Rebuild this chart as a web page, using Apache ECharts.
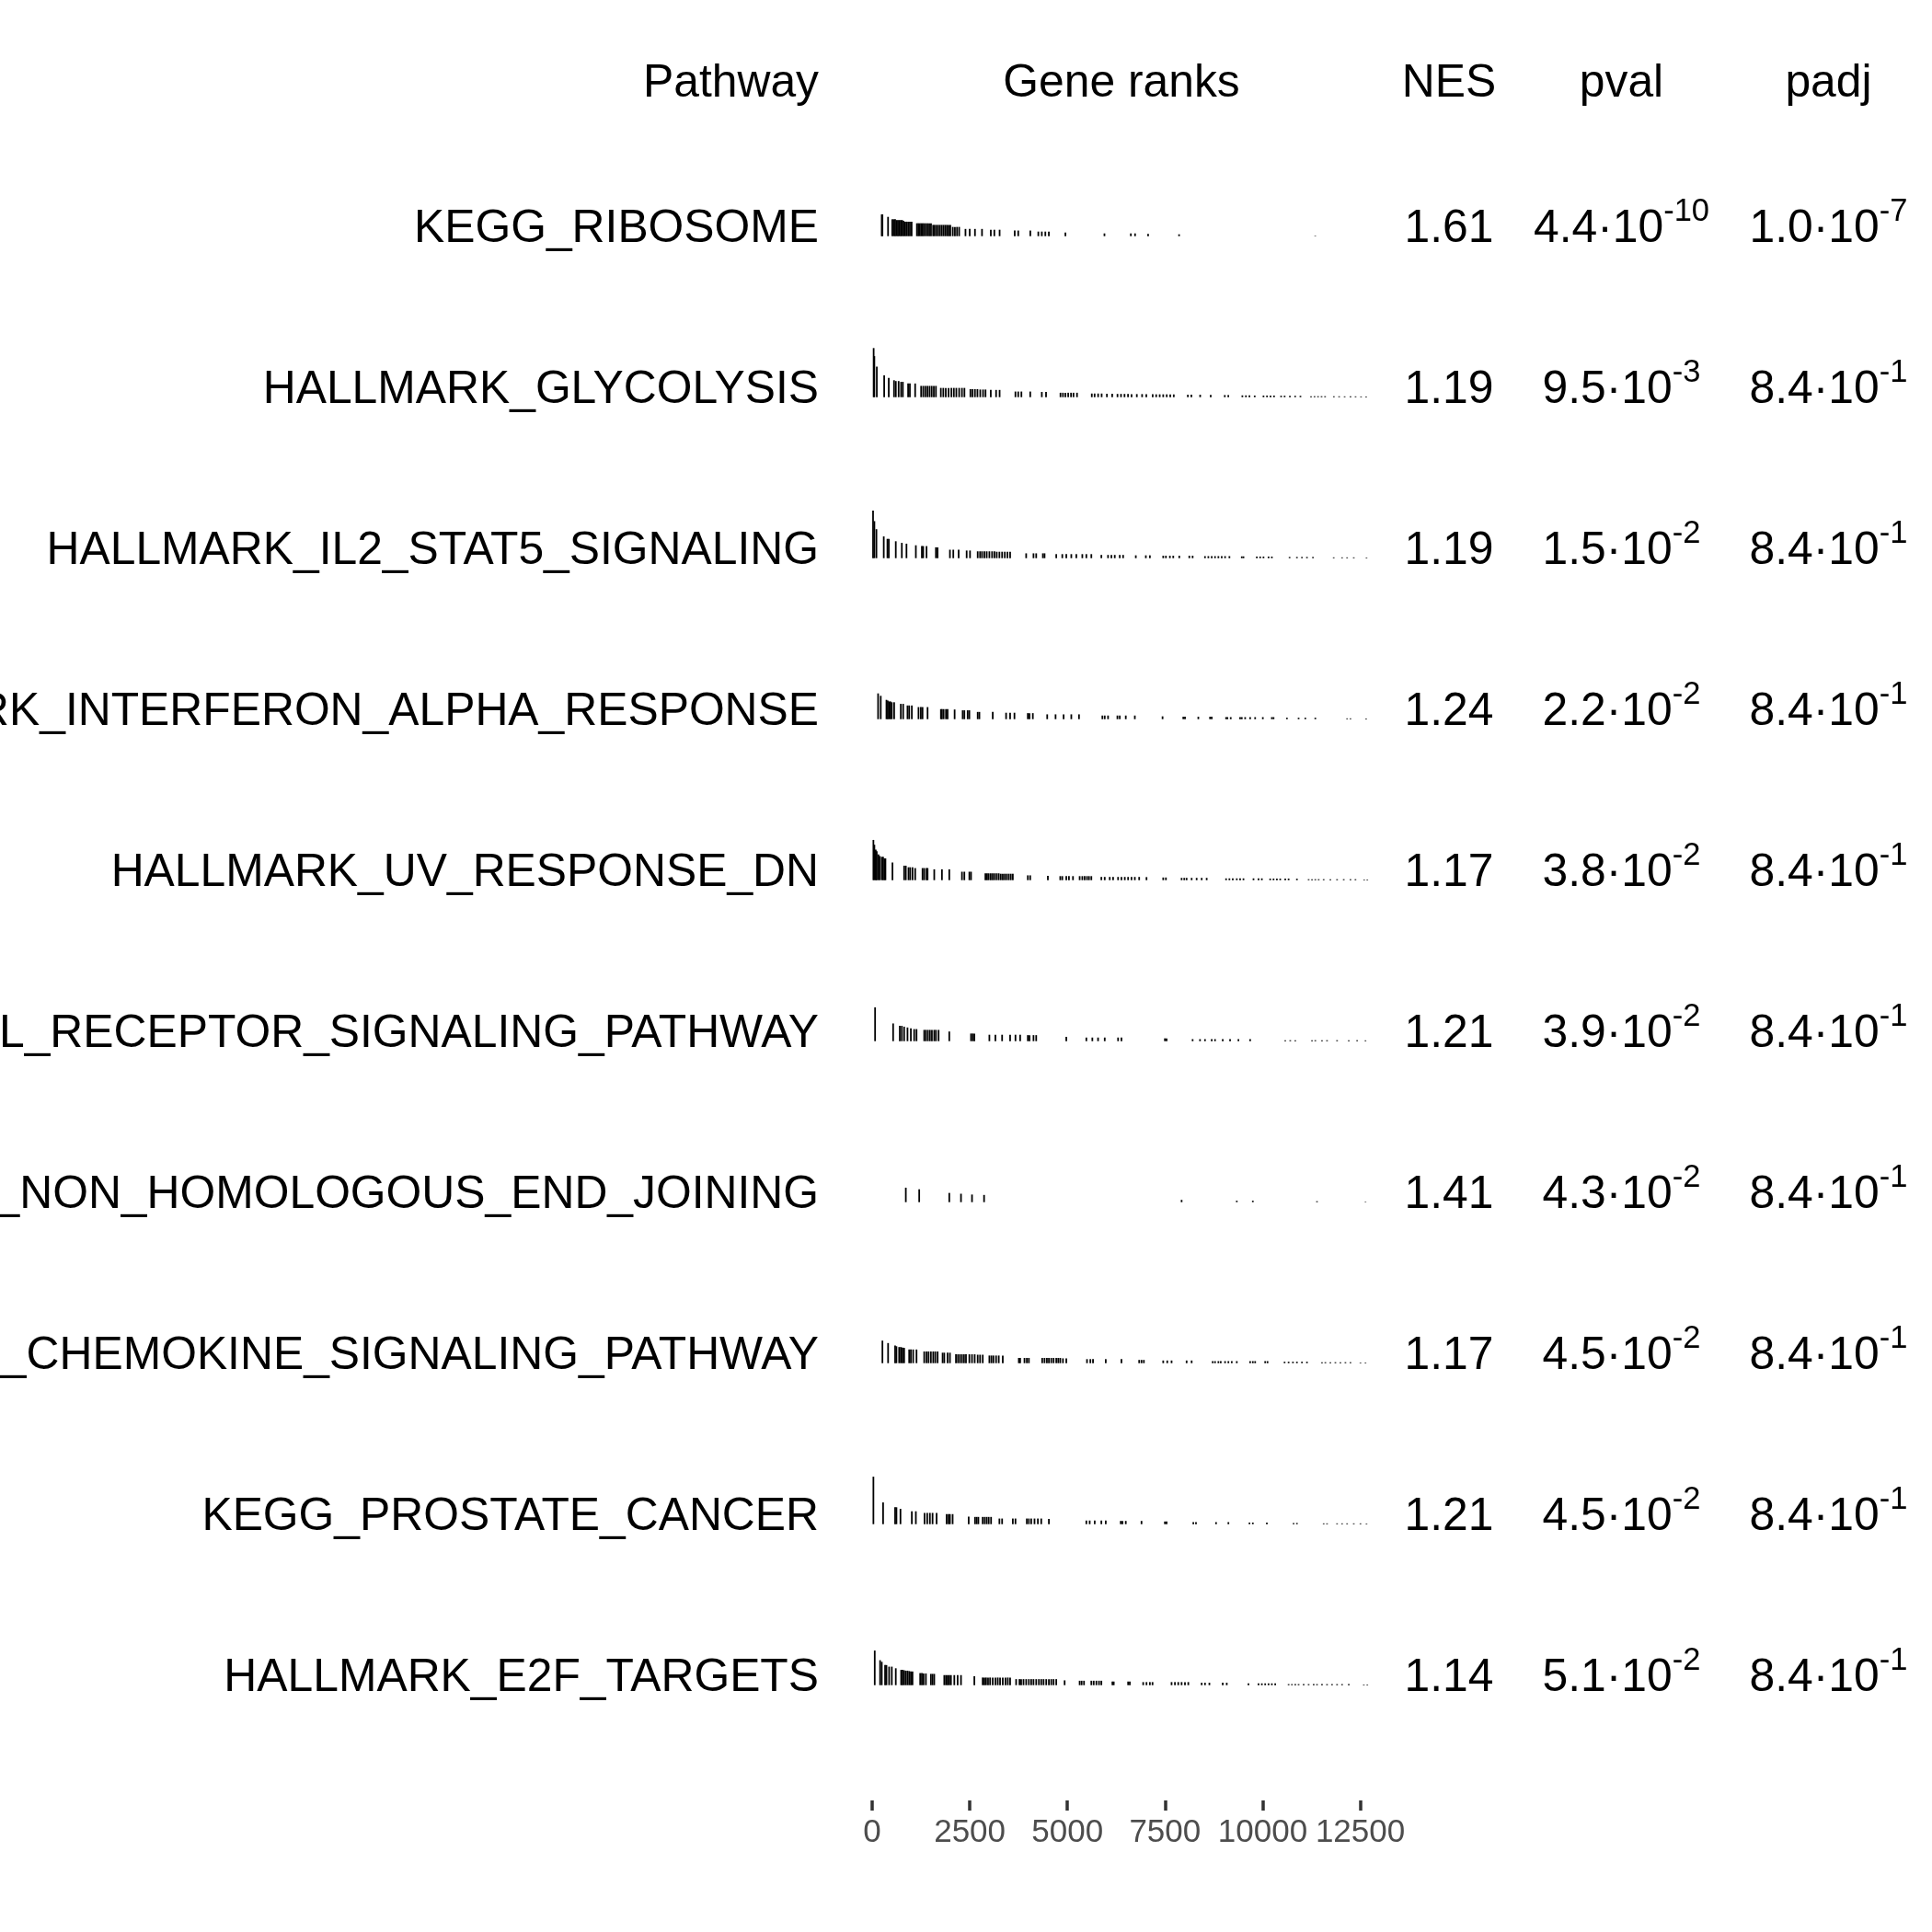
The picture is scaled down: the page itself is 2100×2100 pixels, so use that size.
<!DOCTYPE html>
<html><head><meta charset="utf-8">
<script src="https://cdn.jsdelivr.net/npm/echarts@6/dist/echarts.min.js"></script>
<style>html,body{margin:0;padding:0;background:#fff}#c{width:2100px;height:2100px}</style>
</head><body><div id="c"></div>
<script>
// ---------------- data ----------------
const pathways = [
  'KEGG_RIBOSOME',
  'HALLMARK_GLYCOLYSIS',
  'HALLMARK_IL2_STAT5_SIGNALING',
  'HALLMARK_INTERFERON_ALPHA_RESPONSE',
  'HALLMARK_UV_RESPONSE_DN',
  'KEGG_T_CELL_RECEPTOR_SIGNALING_PATHWAY',
  'KEGG_NON_HOMOLOGOUS_END_JOINING',
  'KEGG_CHEMOKINE_SIGNALING_PATHWAY',
  'KEGG_PROSTATE_CANCER',
  'HALLMARK_E2F_TARGETS'
];
const nes = [1.61, 1.19, 1.19, 1.24, 1.17, 1.21, 1.41, 1.17, 1.21, 1.14];
const pvals = [4.4e-10, 9.5e-3, 1.5e-2, 2.2e-2, 3.8e-2, 3.9e-2, 4.3e-2, 4.5e-2, 4.5e-2, 5.1e-2];
const padjs = [1.0e-7, 8.4e-1, 8.4e-1, 8.4e-1, 8.4e-1, 8.4e-1, 8.4e-1, 8.4e-1, 8.4e-1, 8.4e-1];
const nGenes = 12770;
const axisTicks = [0, 2500, 5000, 7500, 10000, 12500];
const headers = ['Pathway', 'Gene ranks', 'NES', 'pval', 'padj'];

// [gene rank, scaled statistic]
const hitsRibosome = [[245,.27],[263,.27],[407,.24],[515,.21],[551,.21],[588,.21],[624,.2],[660,.2],[696,.2],[732,.2],[768,.2],[804,.19],[840,.18],[876,.18],[921,.18],[966,.18],[1011,.18],[1146,.16],[1182,.16],[1218,.16],[1254,.16],[1290,.16],[1326,.16],[1371,.16],[1417,.16],[1462,.16],[1507,.16],[1561,.14],[1597,.14],[1642,.14],[1687,.14],[1732,.14],[1777,.14],[1822,.14],[1867,.14],[1912,.14],[1957,.14],[2002,.14],[2065,.115],[2119,.115],[2173,.115],[2228,.115],[2390,.09],[2498,.09],[2633,.09],[2813,.09],[3039,.08],[3129,.08],[3264,.08],[3651,.07],[3741,.07],[4050,.07],[4255,.057],[4345,.057],[4435,.057],[4525,.057],[4949,.046],[5949,.034],[6625,.034],[6733,.034],[7067,.029],[7860,.023],[11347,.006]];
const hitsGlycolysis = [[38,.61],[56,.51],[119,.38],[308,.27],[425,.24],[560,.21],[606,.2],[678,.2],[741,.19],[786,.19],[921,.17],[966,.17],[1101,.17],[1254,.14],[1308,.14],[1362,.14],[1417,.14],[1471,.14],[1525,.14],[1579,.14],[1633,.14],[1759,.115],[1822,.115],[1885,.115],[1957,.115],[2029,.115],[2092,.115],[2155,.115],[2228,.115],[2300,.115],[2363,.115],[2516,.1],[2570,.1],[2633,.1],[2696,.1],[2768,.095],[2840,.095],[2903,.095],[3038,.09],[3174,.09],[3264,.09],[3669,.07],[3741,.07],[3822,.07],[4048,.07],[4345,.065],[4453,.065],[4823,.055],[4886,.055],[4949,.055],[5021,.055],[5093,.055],[5156,.055],[5246,.055],[5625,.045],[5697,.045],[5787,.045],[5877,.045],[6012,.042],[6147,.042],[6283,.04],[6373,.04],[6463,.04],[6553,.04],[6643,.038],[6778,.038],[6913,.038],[7021,.036],[7184,.036],[7274,.035],[7364,.035],[7454,.035],[7544,.035],[7634,.034],[7724,.034],[8085,.03],[8175,.03],[8400,.03],[8670,.028],[9031,.026],[9121,.026],[9481,.022],[9572,.022],[9662,.022],[9797,.02],[10022,.02],[10112,.02],[10202,.02],[10292,.02],[10473,.018],[10563,.018],[10698,.018],[10833,.017],[10968,.017],[11239,.012],[11329,.012],[11419,.012],[11509,.012],[11599,.012],[11824,.011],[11959,.011],[12100,.01],[12250,.01],[12380,.01],[12520,.009],[12650,.009]];
const hitsIl2 = [[23,.59],[57,.46],[109,.36],[297,.27],[391,.24],[426,.24],[605,.21],[760,.19],[879,.18],[1119,.16],[1273,.15],[1307,.15],[1393,.15],[1633,.135],[1675,.135],[1992,.105],[2078,.105],[2215,.105],[2420,.095],[2506,.095],[2703,.085],[2763,.085],[2814,.085],[2874,.085],[2934,.085],[3002,.085],[3071,.085],[3131,.085],[3191,.08],[3259,.08],[3328,.08],[3397,.08],[3465,.08],[3533,.08],[3944,.06],[4132,.06],[4201,.06],[4372,.06],[4415,.06],[4715,.05],[4869,.05],[4972,.05],[5100,.05],[5228,.05],[5382,.05],[5485,.05],[5613,.05],[5870,.04],[6041,.04],[6127,.04],[6213,.04],[6341,.04],[6427,.04],[6752,.035],[7009,.035],[7112,.035],[7454,.03],[7523,.03],[7625,.03],[7711,.03],[7865,.03],[8122,.03],[8207,.03],[8524,.025],[8610,.025],[8696,.025],[8781,.025],[8867,.025],[8952,.025],[9038,.025],[9149,.025],[9466,.022],[9509,.022],[9851,.02],[9937,.02],[10022,.02],[10151,.02],[10236,.02],[10690,.015],[10878,.015],[11007,.015],[11135,.015],[11289,.015],[11820,.01],[12034,.01],[12163,.01],[12334,.01],[12660,.008]];
const hitsIfnAlpha = [[152,.32],[220,.29],[366,.24],[400,.23],[434,.22],[468,.22],[503,.21],[563,.21],[734,.19],[794,.19],[905,.17],[948,.17],[1016,.17],[1187,.15],[1247,.15],[1290,.15],[1419,.15],[1761,.125],[1787,.125],[1830,.125],[1890,.125],[1932,.125],[2112,.12],[2318,.11],[2361,.11],[2446,.11],[2489,.11],[2703,.09],[2746,.09],[3088,.09],[3430,.08],[3533,.08],[3644,.08],[3987,.075],[4030,.075],[4115,.075],[4483,.06],[4697,.06],[4903,.06],[5100,.06],[5297,.06],[5896,.045],[5956,.045],[6041,.045],[6281,.045],[6341,.045],[6495,.045],[6727,.045],[7437,.035],[7968,.03],[8011,.03],[8353,.03],[8653,.03],[8696,.03],[9064,.025],[9098,.025],[9183,.025],[9423,.025],[9466,.025],[9552,.025],[9680,.025],[9808,.025],[10005,.025],[10236,.025],[10279,.025],[10622,.018],[10921,.018],[11093,.018],[11349,.018],[12163,.01],[12249,.01],[12650,.008]];
const hitsUvDn = [[32,.5],[57,.44],[92,.38],[117,.36],[160,.32],[194,.3],[246,.29],[280,.29],[314,.27],[340,.27],[520,.22],[819,.18],[862,.18],[931,.16],[973,.16],[1033,.16],[1102,.15],[1290,.15],[1333,.15],[1393,.15],[1419,.15],[1590,.135],[1787,.135],[1975,.135],[2300,.105],[2361,.105],[2489,.105],[2532,.105],[2900,.085],[2943,.085],[2985,.085],[3037,.085],[3088,.085],[3140,.085],[3191,.085],[3242,.085],[3294,.08],[3345,.08],[3397,.08],[3448,.08],[3499,.08],[3551,.08],[3602,.08],[3987,.06],[4047,.06],[4500,.055],[4817,.05],[4869,.05],[4972,.05],[5040,.05],[5143,.05],[5314,.05],[5382,.05],[5442,.05],[5502,.05],[5553,.05],[5613,.05],[5870,.04],[5956,.04],[6084,.04],[6170,.04],[6298,.04],[6384,.04],[6470,.04],[6555,.04],[6641,.04],[6727,.04],[6838,.04],[7026,.038],[7454,.033],[7523,.033],[7925,.028],[7993,.028],[8053,.028],[8182,.028],[8310,.028],[8439,.028],[8567,.028],[9064,.022],[9149,.022],[9235,.022],[9338,.022],[9423,.022],[9509,.022],[9766,.022],[9894,.022],[9980,.022],[10193,.02],[10279,.02],[10365,.02],[10450,.02],[10579,.02],[10665,.02],[10878,.018],[11178,.012],[11264,.012],[11349,.012],[11435,.012],[11563,.012],[11735,.012],[11906,.012],[12077,.012],[12249,.012],[12377,.012],[12600,.008],[12680,.008]];
const hitsTcr = [[75,.42],[537,.22],[708,.19],[760,.19],[819,.18],[905,.17],[991,.16],[1076,.15],[1136,.15],[1333,.14],[1376,.14],[1427,.14],[1479,.14],[1530,.14],[1590,.14],[1633,.14],[1701,.14],[1975,.12],[2532,.095],[2575,.095],[2617,.095],[3002,.08],[3156,.08],[3328,.08],[3533,.08],[3670,.08],[3790,.08],[3987,.075],[4030,.075],[4132,.075],[4201,.075],[4972,.055],[5485,.045],[5639,.045],[5785,.045],[5956,.045],[6298,.045],[6384,.045],[7497,.035],[7540,.035],[8207,.025],[8396,.025],[8524,.025],[8696,.025],[8781,.025],[8978,.025],[9166,.025],[9380,.025],[9680,.025],[10579,.012],[10707,.012],[10836,.012],[11264,.012],[11349,.012],[11520,.012],[11649,.012],[11906,.012],[12206,.012],[12420,.012],[12634,.01]];
const hitsNhej = [[862,.18],[1205,.16],[1975,.115],[2275,.105],[2557,.095],[2866,.09],[7925,.028],[9338,.018],[9749,.018],[11392,.012],[12634,.006]];
const hitsChemokine = [[263,.28],[408,.25],[588,.22],[622,.21],[691,.2],[734,.2],[777,.195],[819,.19],[948,.17],[991,.17],[1050,.17],[1136,.17],[1333,.145],[1393,.145],[1444,.145],[1504,.145],[1564,.145],[1616,.145],[1676,.145],[1804,.13],[1847,.13],[1932,.13],[1992,.13],[2146,.11],[2198,.11],[2249,.11],[2300,.11],[2352,.11],[2403,.11],[2489,.11],[2557,.11],[2626,.11],[2703,.105],[2763,.105],[2832,.105],[3002,.095],[3054,.095],[3105,.095],[3174,.095],[3242,.095],[3345,.095],[3756,.065],[3790,.065],[3901,.065],[3961,.065],[4013,.065],[4355,.065],[4415,.065],[4475,.065],[4526,.065],[4586,.065],[4646,.065],[4715,.065],[4766,.065],[4817,.065],[4886,.06],[4972,.06],[5502,.05],[5588,.05],[5656,.05],[5982,.05],[6384,.05],[6838,.04],[6898,.04],[6958,.04],[7454,.033],[7557,.033],[7668,.033],[8053,.033],[8182,.033],[8721,.025],[8781,.025],[8867,.025],[8927,.025],[9038,.025],[9123,.025],[9209,.025],[9338,.025],[9680,.025],[9749,.025],[9808,.025],[10065,.025],[10125,.025],[10562,.018],[10665,.018],[10776,.018],[10878,.018],[11007,.018],[11135,.018],[11520,.012],[11606,.012],[11735,.012],[11863,.012],[11992,.012],[12120,.012],[12249,.012],[12505,.008],[12634,.008]];
const hitsProstate = [[32,.59],[280,.27],[588,.21],[622,.21],[725,.19],[1016,.16],[1119,.16],[1342,.14],[1410,.14],[1479,.14],[1547,.14],[1650,.14],[1907,.125],[1958,.125],[1992,.125],[2061,.125],[2472,.095],[2634,.09],[2677,.09],[2720,.09],[2831,.09],[2883,.09],[2934,.09],[2985,.09],[3045,.09],[3259,.07],[3328,.07],[3602,.07],[3670,.07],[3961,.07],[4013,.07],[4073,.07],[4158,.07],[4244,.07],[4330,.07],[4526,.065],[5485,.045],[5571,.045],[5699,.045],[5870,.045],[5982,.045],[6367,.04],[6410,.04],[6495,.04],[6898,.04],[7497,.033],[7540,.033],[8225,.025],[8293,.025],[8807,.025],[9123,.025],[9663,.02],[9749,.02],[10108,.02],[10793,.015],[10878,.015],[11563,.01],[11649,.01],[11906,.01],[12034,.01],[12163,.01],[12334,.01],[12505,.01],[12660,.008]];
const hitsE2f = [[66,.43],[203,.31],[246,.29],[331,.25],[366,.25],[434,.23],[503,.23],[605,.21],[742,.19],[777,.19],[819,.185],[862,.18],[905,.18],[948,.175],[991,.17],[1033,.17],[1230,.15],[1273,.15],[1316,.145],[1376,.145],[1504,.14],[1547,.14],[1590,.14],[1847,.125],[1890,.125],[1932,.125],[1975,.125],[2018,.125],[2104,.125],[2189,.125],[2275,.125],[2617,.11],[2831,.095],[2874,.095],[2917,.095],[2968,.095],[3020,.095],[3088,.095],[3157,.095],[3217,.095],[3276,.095],[3345,.095],[3414,.095],[3474,.095],[3533,.095],[3687,.075],[3773,.075],[3816,.075],[3876,.075],[3944,.075],[4013,.075],[4073,.075],[4132,.075],[4201,.075],[4270,.075],[4330,.075],[4390,.075],[4458,.075],[4526,.075],[4586,.075],[4646,.075],[4715,.075],[4929,.06],[5314,.055],[5365,.055],[5425,.055],[5613,.055],[5673,.055],[5742,.055],[5810,.055],[5870,.055],[6153,.045],[6187,.045],[6555,.045],[6598,.045],[6941,.038],[7026,.038],[7112,.038],[7180,.038],[7668,.038],[7754,.038],[7839,.038],[7925,.038],[8011,.038],[8096,.038],[8439,.03],[8524,.03],[8636,.03],[8978,.03],[9081,.03],[9637,.022],[9894,.022],[9980,.022],[10065,.022],[10151,.022],[10236,.022],[10322,.022],[10665,.013],[10750,.013],[10836,.013],[10921,.013],[11050,.013],[11178,.013],[11307,.013],[11392,.013],[11520,.013],[11649,.013],[11777,.013],[11906,.013],[12034,.013],[12206,.013],[12591,.008],[12680,.008]];
const geneHits = [hitsRibosome, hitsGlycolysis, hitsIl2, hitsIfnAlpha, hitsUvDn, hitsTcr, hitsNhej, hitsChemokine, hitsProstate, hitsE2f];

// ---------------- layout ----------------
const FONT = '"Liberation Sans", Arial, Helvetica, sans-serif';
const FS = 49.8, SUP = 34.5;
const rowH = 175, firstBase = 256.7, textOff = 7.5, headerY = 91.5;
const panelLeft = 948, panelWidth = 542;
const colPathwayRight = 890, colGene = panelLeft + panelWidth / 2;
const colNes = 1575, colPval = 1762.5, colPadj = 1987.5;

const chart = echarts.init(document.getElementById('c'), null, {renderer: 'canvas'});

const grids = [], xAxes = [], yAxes = [], series = [];
geneHits.forEach((hits, i) => {
  grids.push({left: panelLeft, width: panelWidth, top: firstBase + i * rowH - rowH / 2, height: rowH});
  xAxes.push({gridIndex: i, type: 'value', min: 0, max: nGenes, show: false});
  yAxes.push({gridIndex: i, type: 'value', min: -1, max: 1, show: false});
  series.push({
    type: 'custom', xAxisIndex: i, yAxisIndex: i, data: hits, silent: true, clip: false,
    renderItem: (params, api) => {
      const p0 = api.coord([api.value(0), 0]);
      const p1 = api.coord([api.value(0), api.value(1)]);
      return {type: 'line', shape: {x1: p0[0], y1: p0[1], x2: p1[0], y2: p1[1]},
              style: {stroke: '#000', lineWidth: 1.8, lineCap: 'butt'}};
    }
  });
});
// bottom rank axis
grids.push({left: panelLeft, width: panelWidth, top: 1900, height: 57});
xAxes.push({gridIndex: 10, type: 'value', min: 0, max: nGenes, position: 'bottom',
  axisLine: {show: false}, splitLine: {show: false},
  axisTick: {show: true, length: 11, lineStyle: {color: '#333333', width: 3.5}, customValues: axisTicks},
  axisLabel: {show: true, customValues: axisTicks, fontSize: 35, fontFamily: FONT, color: '#4D4D4D',
              margin: 18, hideOverlap: false, formatter: v => String(v)}
});
yAxes.push({gridIndex: 10, type: 'value', show: false, min: 0, max: 1});

function sci(v) {
  const s = v.toExponential(1).split('e');
  const e = String(parseInt(s[1], 10));
  return '{m|' + s[0] + '\u00B710}{s|' + e + '}';
}
const rich = {
  m: {fontSize: FS, fontFamily: FONT, lineHeight: 72, fill: '#000', verticalAlign: 'middle'},
  s: {fontSize: SUP, fontFamily: FONT, lineHeight: 34, fill: '#000', verticalAlign: 'top'}
};
function txt(x, y, text, align) {
  return {type: 'text', x: x, y: y, silent: true,
          style: {text: text, fontSize: FS, fontFamily: FONT, fill: '#000', align: align, verticalAlign: 'middle'}};
}
const graphics = [];
graphics.push(txt(colPathwayRight, headerY, headers[0], 'right'));
graphics.push(txt(colGene, headerY, headers[1], 'center'));
graphics.push(txt(colNes, headerY, headers[2], 'center'));
graphics.push(txt(colPval, headerY, headers[3], 'center'));
graphics.push(txt(colPadj, headerY, headers[4], 'center'));
pathways.forEach((p, i) => {
  const y = firstBase + i * rowH - textOff;
  graphics.push(txt(colPathwayRight, y, p, 'right'));
  graphics.push(txt(colNes, y, nes[i].toFixed(2), 'center'));
  graphics.push({type: 'text', x: colPval, y: y, silent: true,
    style: {text: sci(pvals[i]), rich: rich, align: 'center', verticalAlign: 'middle', fontSize: FS, fontFamily: FONT, fill: '#000'}});
  graphics.push({type: 'text', x: colPadj, y: y, silent: true,
    style: {text: sci(padjs[i]), rich: rich, align: 'center', verticalAlign: 'middle', fontSize: FS, fontFamily: FONT, fill: '#000'}});
});

chart.setOption({
  backgroundColor: '#ffffff',
  animation: false,
  grid: grids, xAxis: xAxes, yAxis: yAxes, series: series,
  graphic: {elements: graphics}
});
</script>
</body></html>
